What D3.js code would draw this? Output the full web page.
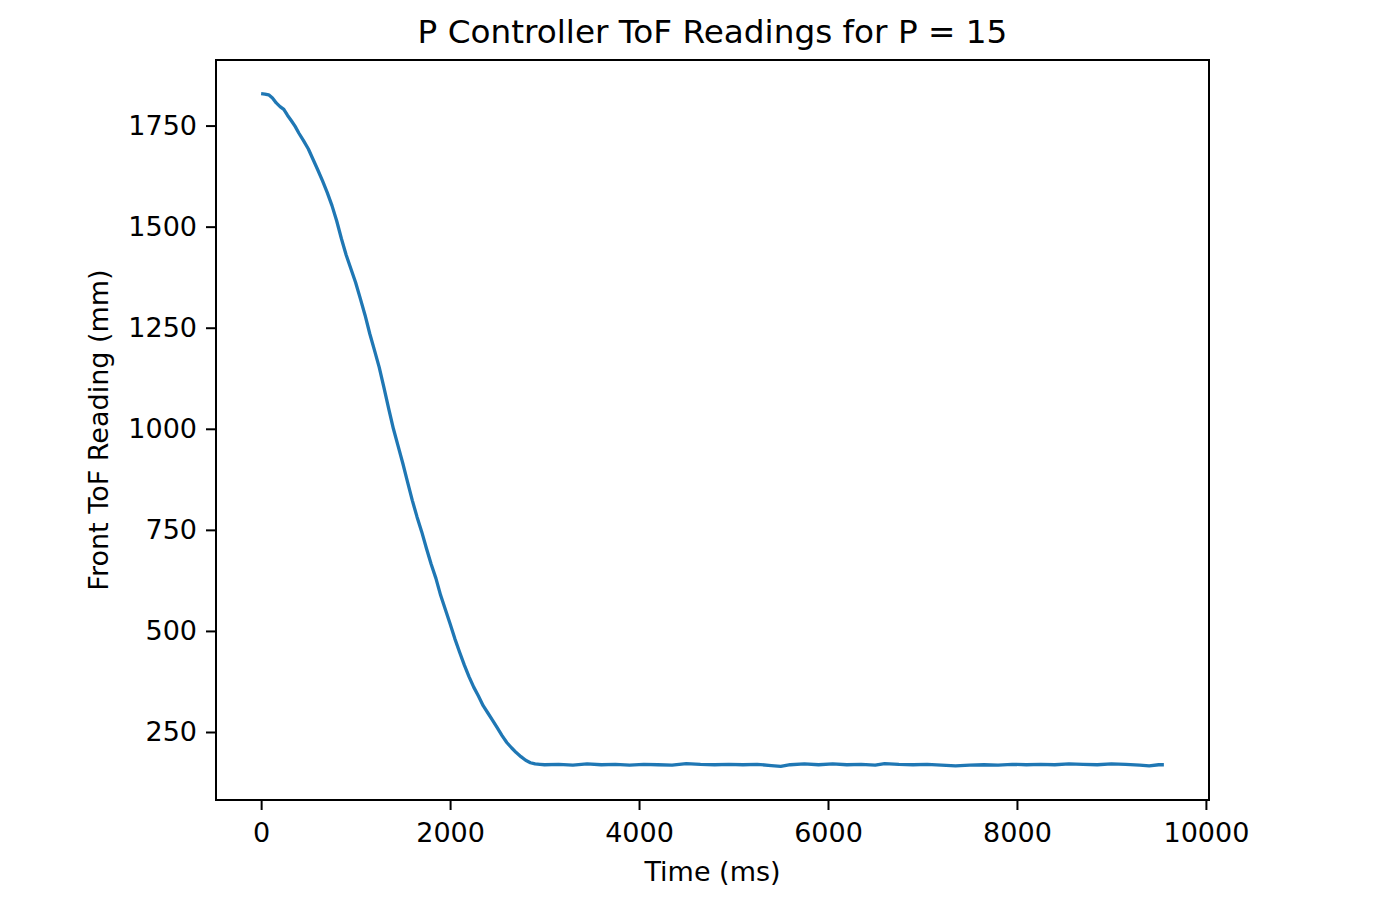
<!DOCTYPE html>
<html>
<head>
<meta charset="utf-8">
<script src="https://cdn.jsdelivr.net/npm/d3@7"></script>
<style>
  body { margin: 0; background: white; }
  text { font-family: "DejaVu Sans", sans-serif; fill: #000; }
</style>
</head>
<body>
<div id="chart"></div>
<script>

// time stamps (ms) and front ToF readings (mm)
var time_ms = [0, 40, 80, 120, 160, 200, 240, 280, 320, 360, 400, 450, 500, 550, 600, 650, 700, 750, 800, 850,
  900, 950, 1000, 1050, 1100, 1150, 1200, 1250, 1300, 1350, 1400, 1450, 1500, 1550, 1600, 1650, 1700, 1750, 1800, 1850,
  1900, 1950, 2000, 2050, 2100, 2150, 2200, 2250, 2300, 2350, 2400, 2450, 2500, 2550, 2600, 2650, 2700, 2750, 2800, 2850,
  2900, 2950, 3000, 3150, 3300, 3450, 3600, 3750, 3900, 4050, 4200, 4350, 4500, 4650, 4800, 4950, 5100, 5250, 5400, 5500,
  5600, 5750, 5900, 6050, 6200, 6350, 6500, 6600, 6750, 6900, 7050, 7200, 7350, 7500, 7650, 7800, 7950, 8100, 8250, 8400,
  8550, 8700, 8850, 9000, 9150, 9300, 9400, 9500, 9555];

var tof_mm = [1829, 1828, 1826, 1818, 1806, 1797, 1790, 1775, 1762, 1748, 1731, 1712, 1692, 1666, 1640, 1613, 1584, 1552, 1514, 1470,
  1430, 1396, 1362, 1322, 1281, 1235, 1194, 1152, 1102, 1050, 1000, 957, 914, 868, 823, 782, 745, 704, 665, 630,
  588, 553, 518, 481, 448, 416, 387, 361, 339, 315, 297, 279, 260, 241, 224, 211, 199, 189, 180, 174,
  171, 170, 169, 170, 168, 171, 169, 170, 168, 170, 169, 168, 172, 170, 169, 170, 169, 170, 167, 165,
  169, 171, 169, 171, 169, 170, 168, 172, 170, 169, 170, 168, 166, 168, 169, 168, 170, 169, 170, 169,
  171, 170, 169, 171, 170, 168, 166, 169, 169];

var x_ticks = [0, 2000, 4000, 6000, 8000, 10000];
var y_ticks = [250, 500, 750, 1000, 1250, 1500, 1750];

var title_txt = "P Controller ToF Readings for P = 15";
var x_label = "Time (ms)";
var y_label = "Front ToF Reading (mm)";

var fig_w = 1379, fig_h = 898;
var margin = {top: 60, left: 216, right: fig_w - 1209, bottom: fig_h - 800};
var plot_w = fig_w - margin.left - margin.right;
var plot_h = fig_h - margin.top - margin.bottom;

var line_col = "#1f77b4";
var tick_len = 10;
var tick_font = 27;

var svg = d3.select("#chart")
  .append("svg")
  .attr("width", fig_w)
  .attr("height", fig_h);

// matplotlib style 5% padding round the data
var x_ext = d3.extent(time_ms);
var y_ext = d3.extent(tof_mm);
var x_pad = (x_ext[1] - x_ext[0]) * 0.05;
var y_pad = (y_ext[1] - y_ext[0]) * 0.05;

var x = d3.scaleLinear()
  .domain([x_ext[0] - x_pad, x_ext[1] + x_pad])
  .range([0, plot_w]);

var y = d3.scaleLinear()
  .domain([y_ext[0] - y_pad, y_ext[1] + y_pad])
  .range([plot_h, 0]);

var g = svg.append("g")
  .attr("transform", "translate(" + margin.left + "," + margin.top + ")");

// the data line
var data = time_ms.map(function(t, i){ return [t, tof_mm[i]]; });

g.append("path")
  .datum(data)
  .attr("fill", "none")
  .attr("stroke", line_col)
  .attr("stroke-width", 3.3)
  .attr("stroke-linejoin", "round")
  .attr("stroke-linecap", "butt")
  .attr("d", d3.line()
    .x(function(d){ return x(d[0]); })
    .y(function(d){ return y(d[1]); }));

// axes
var x_axis = g.append("g")
  .attr("transform", "translate(0," + plot_h + ")")
  .call(d3.axisBottom(x).tickValues(x_ticks).tickSize(tick_len).tickPadding(13).tickFormat(d3.format("d")));

var y_axis = g.append("g")
  .call(d3.axisLeft(y).tickValues(y_ticks).tickSize(tick_len).tickPadding(9).tickFormat(d3.format("d")));

[x_axis, y_axis].forEach(function(ax){
  ax.select(".domain").remove();
  ax.selectAll(".tick line").attr("stroke", "#000").attr("stroke-width", 2);
  ax.selectAll(".tick text")
    .style("font-size", tick_font + "px")
    .style("font-family", "'DejaVu Sans', sans-serif")
    .attr("fill", "#000");
});

// frame
g.append("rect")
  .attr("x", 0)
  .attr("y", 0)
  .attr("width", plot_w)
  .attr("height", plot_h)
  .attr("fill", "none")
  .attr("stroke", "#000")
  .attr("stroke-width", 2);

// title and axis labels
svg.append("text")
  .attr("x", margin.left + plot_w/2)
  .attr("y", 43)
  .style("text-anchor", "middle")
  .style("font-size", "32.7px")
  .text(title_txt);

svg.append("text")
  .attr("x", margin.left + plot_w/2)
  .attr("y", 881)
  .style("text-anchor", "middle")
  .style("font-size", tick_font + "px")
  .text(x_label);

svg.append("text")
  .attr("transform", "translate(108," + (margin.top + plot_h/2) + ") rotate(-90)")
  .style("text-anchor", "middle")
  .style("font-size", tick_font + "px")
  .text(y_label);

</script>
</body>
</html>
